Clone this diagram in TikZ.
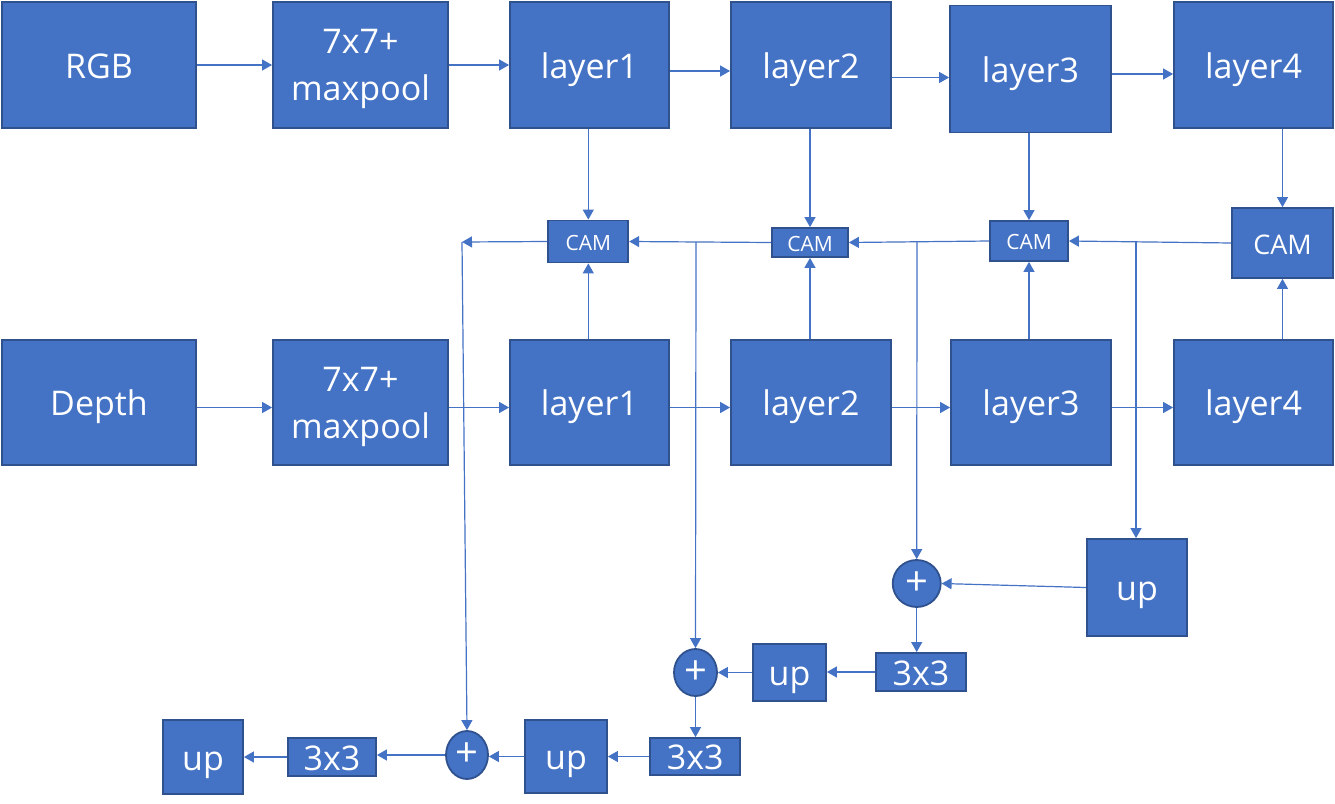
\documentclass[tikz,border=0pt]{standalone}
\usepackage{fontspec}
\setmainfont{Open Sans}
\usetikzlibrary{arrows.meta,shapes.geometric}
\definecolor{mfill}{HTML}{4472C4}
\definecolor{mdraw}{HTML}{2F528F}
\definecolor{mline}{HTML}{4472C4}
\tikzset{
  blk/.style={rectangle, fill=mfill, draw=mdraw, line width=1.8pt, text=white,
    inner sep=0pt, font=\fontsize{34}{47}\selectfont, align=center},
  sl/.style={text height=26pt, text depth=0pt},
  camb/.style={blk, font=\fontsize{21}{25}\selectfont, text height=17pt, text depth=0pt},
  plusb/.style={ellipse, fill=mfill, draw=mdraw, line width=1.8pt, text=white,
    inner sep=0pt, font=\fontsize{40}{44}\selectfont},
  arr/.style={draw=mline, line width=1.2pt, -{Triangle[length=10pt,width=11pt]}},
}
\begin{document}
\begin{tikzpicture}[x=1pt,y=-1pt]
\useasboundingbox (0,0) rectangle (1335,803);
% top row
\node[blk,sl,minimum width=194,minimum height=126] (rgb) at (99,65) {RGB};
\node[blk,text depth=0pt,minimum width=175,minimum height=126] (mpa) at (360.5,65) {7x7+\\maxpool};
\node[blk,sl,minimum width=159,minimum height=126] (l1a) at (589.5,65) {layer1};
\node[blk,sl,minimum width=160,minimum height=126] (l2a) at (811,65) {layer2};
\node[blk,sl,minimum width=161,minimum height=127] (l3a) at (1030.5,69) {layer3};
\node[blk,sl,minimum width=159,minimum height=126] (l4a) at (1253.5,65) {layer4};
% bottom row
\node[blk,sl,minimum width=194,minimum height=125] (dep) at (99,402.5) {Depth};
\node[blk,text depth=0pt,minimum width=175,minimum height=125] (mpb) at (360.5,402.5) {7x7+\\maxpool};
\node[blk,sl,minimum width=159,minimum height=125] (l1b) at (589.5,402.5) {layer1};
\node[blk,sl,minimum width=160,minimum height=125] (l2b) at (811,402.5) {layer2};
\node[blk,sl,minimum width=160,minimum height=125] (l3b) at (1031,402.5) {layer3};
\node[blk,sl,minimum width=159,minimum height=125] (l4b) at (1253.5,402.5) {layer4};
% CAMs
\node[camb,minimum width=80,minimum height=42] (cam1) at (588.3,241.5) {CAM};
\node[camb,minimum width=76,minimum height=29] (cam2) at (810,242.5) {CAM};
\node[camb,minimum width=78,minimum height=40] (cam3) at (1029,241) {CAM};
\node[camb,font=\fontsize{27}{31}\selectfont,text height=22pt,minimum width=101,minimum height=70] (cam4) at (1282.5,243) {CAM};
% decoder
\node[blk,sl,minimum width=100,minimum height=97] (upL) at (1137,587.5) {up};
\node[plusb,minimum width=48,minimum height=47] (p1) at (916.7,583.5) {+};
\node[blk,sl,minimum width=90,minimum height=38] (t3a) at (921,672) {3x3};
\node[blk,sl,minimum width=73,minimum height=57] (upb) at (789.5,672.5) {up};
\node[plusb,minimum width=43,minimum height=47] (p2) at (695.5,672.5) {+};
\node[blk,sl,minimum width=90,minimum height=37] (t3b) at (695.3,756.5) {3x3};
\node[blk,sl,minimum width=82,minimum height=73] (upc) at (566,756.5) {up};
\node[plusb,minimum width=42,minimum height=48] (p3) at (467,755) {+};
\node[blk,sl,minimum width=88,minimum height=38] (t3c) at (332,757) {3x3};
\node[blk,sl,minimum width=80,minimum height=74] (upd) at (203,757) {up};
% junctions
\coordinate (b4) at (1136,242);
\coordinate (b3) at (917,242);
\coordinate (b2) at (696,242);
\coordinate (j1) at (462,242);
% top row arrows
\draw[arr] (rgb) -- (mpa);
\draw[arr] (mpa) -- (l1a);
\draw[arr] ([yshift=-6pt]l1a.east) -- ([yshift=-6pt]l2a.west);
\draw[arr] ([yshift=-12.5pt]l2a.east) -- ([yshift=-12.5pt]l2a.east -| l3a.west);
\draw[arr] ([yshift=-5pt]l3a.east) -- ([yshift=-5pt]l3a.east -| l4a.west);
% bottom row arrows
\foreach \a/\b in {dep/mpb,mpb/l1b,l1b/l2b,l2b/l3b,l3b/l4b}
  \draw[arr] ([yshift=-5pt]\a.east) -- ([yshift=-5pt]\b.west);
% into CAMs
\foreach \c/\t/\u in {cam1/l1a/l1b,cam2/l2a/l2b,cam3/l3a/l3b,cam4/l4a/l4b}{
  \draw[arr] (\c.north |- \t.south) -- (\c.north);
  \draw[arr] (\c.south |- \u.north) -- (\c.south);
}
% CAM chain
\draw[arr] (cam4.west) -- (cam3.east);
\draw[arr] (cam3.west) -- (cam2.east);
\draw[arr] (cam2.west) -- (cam1.east);
\draw[arr] (cam1.west) -- (j1);
% branches
\draw[arr] (b4) -- (b4 |- upL.north);
\draw[arr] (b3) -- (p1.north);
\draw[arr] (b2) -- (p2.north);
\draw[arr] (j1) -- (p3.north);
% decoder chain
\draw[arr] (upL.west) -- (p1.east);
\draw[arr] (p1.south) -- (p1.south |- t3a.north);
\draw[arr] (t3a.west) -- (t3a.west -| upb.east);
\draw[arr] (upb.west) -- (p2.east);
\draw[arr] (p2.south) -- (p2.south |- t3b.north);
\draw[arr] (t3b.west) -- (t3b.west -| upc.east);
\draw[arr] (upc.west) -- (upc.west -| p3.east);
\draw[arr] (p3.west) -- (p3.west -| t3c.east);
\draw[arr] (t3c.west) -- (t3c.west -| upd.east);
\end{tikzpicture}
\end{document}
